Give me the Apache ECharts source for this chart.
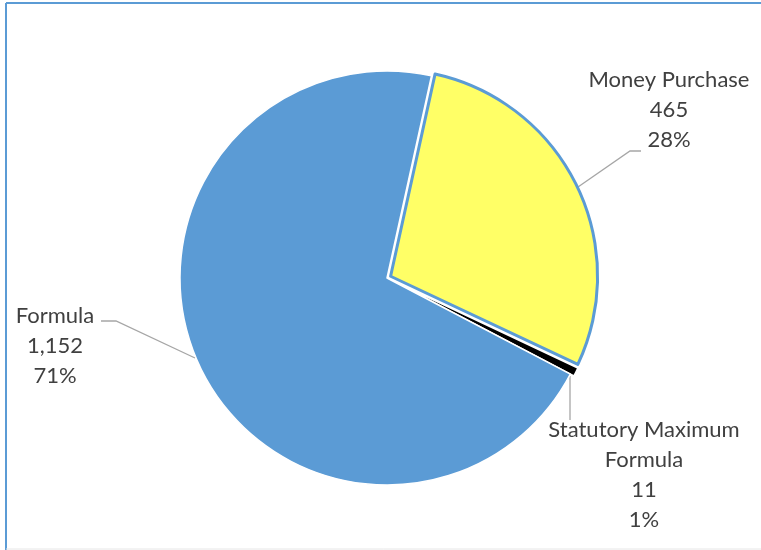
<!DOCTYPE html>
<html>
<head>
<meta charset="utf-8">
<script src="https://cdn.jsdelivr.net/npm/echarts@6/dist/echarts.min.js"></script>
<style>
  html, body { margin: 0; padding: 0; background: #fff; }
  #main { width: 761px; height: 550px; }
</style>
</head>
<body>
<div id="main"></div>
<script>
// data
const categories = ['Money Purchase', 'Statutory Maximum Formula', 'Formula'];
const values = [465, 11, 1152];
const percentLabels = ['28%', '1%', '71%'];

const colors = ['#ffff66', '#000000', '#5b9bd5'];

// where each label sits (text top, centre x) and its leader line
const labelSpots = [
  { x: 669, y: 65, line: [[578, 187], [630, 151], [641, 151]] },
  { x: 644, y: 415, line: [[570, 376], [570, 420]] },
  { x: 55, y: 301, line: [[195, 358], [116, 321], [101, 321]] }
];

const chart = echarts.init(document.getElementById('main'));

const sliceStyle = i => i === 0
  ? { color: colors[i], borderColor: '#5b9bd5', borderWidth: 3 }
  : { color: colors[i], borderColor: '#ffffff', borderWidth: 1.5 };

const pieData = categories.map((name, i) => ({
  name: name,
  value: values[i],
  selected: i < 2,
  itemStyle: sliceStyle(i),
  select: { itemStyle: sliceStyle(i) }
}));

const labelText = i => [
  categories[i].replace('Maximum ', 'Maximum\n'),
  values[i].toLocaleString('en-US'),
  percentLabels[i]
].join('\n');

const labelGraphics = [];
categories.forEach((c, i) => {
  const s = labelSpots[i];
  labelGraphics.push({
    type: 'polyline',
    shape: { points: s.line },
    style: { stroke: '#a6a6a6', lineWidth: 1.3, fill: null }
  });
  labelGraphics.push({
    type: 'text',
    x: s.x,
    y: s.y,
    style: {
      text: labelText(i),
      align: 'center',
      verticalAlign: 'top',
      fill: '#404040',
      fontFamily: 'Lato',
      fontSize: 22,
      lineHeight: 30
    }
  });
});

chart.setOption({
  animation: false,
  backgroundColor: '#ffffff',
  graphic: [
    { type: 'line', shape: { x1: 6, y1: 3, x2: 761, y2: 3 }, style: { stroke: '#5b9bd5', lineWidth: 2 } },
    { type: 'line', shape: { x1: 6, y1: 3, x2: 6, y2: 550 }, style: { stroke: '#5b9bd5', lineWidth: 2 } },
    { type: 'line', shape: { x1: 6, y1: 549, x2: 761, y2: 549 }, style: { stroke: '#e6e6e6', lineWidth: 1 } }
  ].concat(labelGraphics),
  series: [{
    type: 'pie',
    center: [387, 278],
    radius: 207,
    startAngle: 77.6,
    clockwise: true,
    selectedMode: 'multiple',
    selectedOffset: 4,
    data: pieData,
    label: { show: false },
    labelLine: { show: false },
    emphasis: { disabled: true }
  }]
});
</script>
</body>
</html>
